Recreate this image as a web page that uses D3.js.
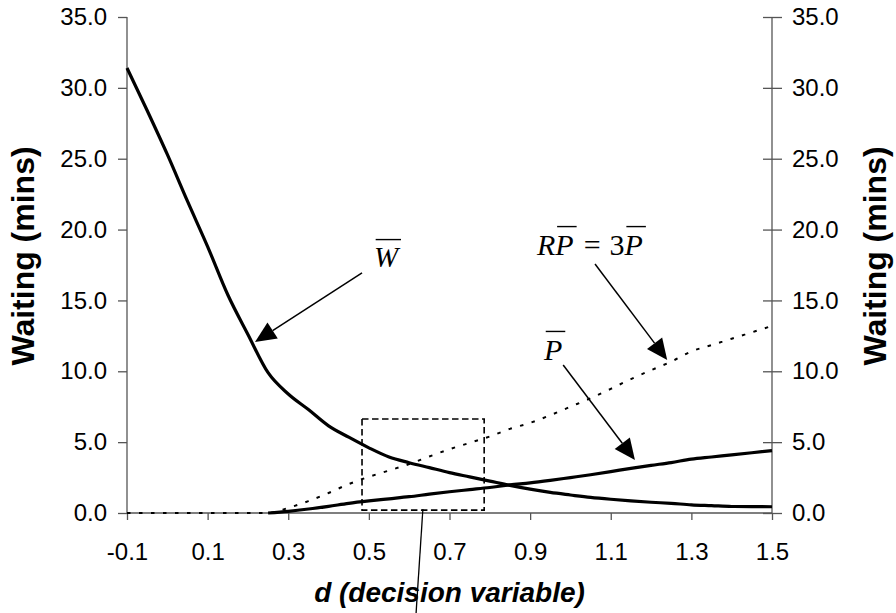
<!DOCTYPE html>
<html>
<head>
<meta charset="utf-8">
<script src="https://cdn.jsdelivr.net/npm/d3@7"></script>
<style>
  html, body { margin: 0; padding: 0; background: #fff; }
  svg { display: block; }
</style>
</head>
<body>
<svg id="chart" width="896" height="613"></svg>
<script>
// ---- data ----
const dValues = [-0.1, -0.05, 0.0, 0.05, 0.1, 0.15, 0.2, 0.25, 0.3, 0.35, 0.4, 0.45, 0.5, 0.55,
  0.6, 0.65, 0.7, 0.75, 0.8, 0.85, 0.9, 0.95, 1.0, 1.05, 1.1, 1.15, 1.2, 1.25, 1.3, 1.35, 1.4, 1.45, 1.5];
const wBar = [31.4, 28.4, 25.3, 22.0, 18.8, 15.4, 12.6, 9.9, 8.4, 7.3, 6.15, 5.35, 4.6, 3.95,
  3.55, 3.2, 2.85, 2.55, 2.25, 1.95, 1.68, 1.45, 1.27, 1.1, 0.97, 0.86, 0.76, 0.68, 0.58, 0.52, 0.46, 0.45, 0.44];
const pBar = [null, null, null, null, null, null, null, 0.0, 0.12, 0.28, 0.47, 0.68, 0.85, 1.0,
  1.15, 1.33, 1.5, 1.65, 1.8, 1.98, 2.12, 2.3, 2.5, 2.7, 2.92, 3.15, 3.36, 3.56, 3.8, 3.95, 4.1, 4.25, 4.4];
const rpBar = [0, 0, 0, 0, 0, 0, 0, 0.0, 0.36, 0.84, 1.41, 2.04, 2.55, 3.0,
  3.45, 3.99, 4.5, 4.95, 5.4, 5.94, 6.36, 6.9, 7.5, 8.1, 8.76, 9.45, 10.08, 10.68, 11.4, 11.85, 12.3, 12.75, 13.2];
const xTicks = [-0.1, 0.1, 0.3, 0.5, 0.7, 0.9, 1.1, 1.3, 1.5];
const yTicks = [0, 5, 10, 15, 20, 25, 30, 35];
const xTitle = "d (decision variable)";
const yTitle = "Waiting (mins)";
// annotations in data units [d, value]
const zoomBox = { d0: 0.483, d1: 0.786, v0: 0.2, v1: 6.63 };
const pointerLine = [[0.634, 0.28], [0.617, -7.1]];
const arrowW = [[0.483, 16.94], [0.2175, 12.07]];
const arrowRP = [[1.061, 17.57], [1.24, 10.8]];
const arrowP = [[0.982, 10.44], [1.16, 3.74]];
const labelW = { d: 0.5425, v: 17.35 };
const labelRP = { d: 0.917, v: 18.2 };
const labelP = { d: 0.957, v: 10.8 };

// ---- layout ----
const svg = d3.select("#chart");
const mLeft = 127, mRight = 772, mTop = 17, mBottom = 513;
const x = d3.scaleLinear().domain([-0.1, 1.5]).range([mLeft, mRight]);
const y = d3.scaleLinear().domain([0, 35]).range([mBottom, mTop]);
const sans = "'Liberation Sans', Arial, sans-serif";
const serif = "'Liberation Serif', 'Times New Roman', serif";
const axisColor = "#555";
const fmt = d3.formatLocale({ decimal: ".", thousands: ",", grouping: [3], currency: ["", ""], minus: "-" }).format(".1f");

// axes
const gx = svg.append("g").attr("transform", `translate(0,${mBottom})`)
  .call(d3.axisBottom(x).tickValues(xTicks).tickFormat(fmt).tickSize(7).tickPadding(23).tickSizeOuter(0));
const gl = svg.append("g").attr("transform", `translate(${mLeft},0)`)
  .call(d3.axisLeft(y).tickValues(yTicks).tickFormat(fmt).tickSize(9).tickPadding(11).tickSizeOuter(0));
const gr = svg.append("g").attr("transform", `translate(${mRight},0)`)
  .call(d3.axisRight(y).tickValues(yTicks).tickFormat(fmt).tickSize(10).tickPadding(10).tickSizeOuter(0));
gr.selectAll(".tick line").attr("x1", -9);
[gx, gl, gr].forEach(g => {
  g.selectAll("path.domain").attr("stroke", axisColor).attr("stroke-width", 1.3);
  g.selectAll(".tick line").attr("stroke", axisColor).attr("stroke-width", 1.3);
  g.selectAll(".tick text").attr("fill", "#000").style("font-family", sans).style("font-size", "24px");
});
gl.select("path.domain").attr("d", `M0,${y(35)}V${y(0)}`);
gr.select("path.domain").attr("d", `M0,${y(35)}V${y(0)}`);
gx.select("path.domain").attr("d", `M${mLeft},0H${mRight}`);

// titles
svg.append("text").attr("x", (mLeft + mRight) / 2).attr("y", 602).attr("text-anchor", "middle")
  .style("font-family", sans).style("font-size", "28px").style("font-weight", "bold").style("font-style", "italic")
  .text(xTitle);
svg.append("text").attr("transform", `translate(34,256) rotate(-90)`).attr("text-anchor", "middle")
  .style("font-family", sans).style("font-size", "32px").style("font-weight", "bold").text(yTitle);
svg.append("text").attr("transform", `translate(886,256) rotate(-90)`).attr("text-anchor", "middle")
  .style("font-family", sans).style("font-size", "32px").style("font-weight", "bold").text(yTitle);

// series
const rows = dValues.map((d, i) => ({ d, w: wBar[i], p: pBar[i], rp: rpBar[i] }));
const mk = key => d3.line().defined(r => r[key] !== null).x(r => x(r.d)).y(r => y(r[key])).curve(d3.curveMonotoneX);
svg.append("path").datum(rows).attr("d", mk("rp")).attr("fill", "none").attr("stroke", "#000")
  .attr("stroke-width", 2).attr("stroke-dasharray", "3.5,8.5");
svg.append("path").datum(rows).attr("d", mk("p")).attr("fill", "none").attr("stroke", "#000")
  .attr("stroke-width", 3.2).attr("stroke-linejoin", "round");
svg.append("path").datum(rows).attr("d", mk("w")).attr("fill", "none").attr("stroke", "#000")
  .attr("stroke-width", 3.2).attr("stroke-linejoin", "round");

// zoom box
svg.append("rect").attr("x", x(zoomBox.d0)).attr("y", y(zoomBox.v1))
  .attr("width", x(zoomBox.d1) - x(zoomBox.d0)).attr("height", y(zoomBox.v0) - y(zoomBox.v1))
  .attr("fill", "none").attr("stroke", "#000").attr("stroke-width", 1.6).attr("stroke-dasharray", "6.5,3.5");
svg.append("line").attr("x1", x(pointerLine[0][0])).attr("y1", y(pointerLine[0][1]))
  .attr("x2", x(pointerLine[1][0])).attr("y2", y(pointerLine[1][1])).attr("stroke", "#000").attr("stroke-width", 1.3);

// arrows
function arrow(a) {
  const x1 = x(a[0][0]), y1 = y(a[0][1]), x2 = x(a[1][0]), y2 = y(a[1][1]);
  const ang = Math.atan2(y2 - y1, x2 - x1);
  const L = 21, W = 9.5;
  const bx = x2 - L * Math.cos(ang), by = y2 - L * Math.sin(ang);
  svg.append("line").attr("x1", x1).attr("y1", y1).attr("x2", bx).attr("y2", by)
    .attr("stroke", "#000").attr("stroke-width", 1.5);
  const px = -Math.sin(ang), py = Math.cos(ang);
  svg.append("path").attr("d", `M${x2},${y2}L${bx + W * px},${by + W * py}L${bx - W * px},${by - W * py}Z`)
    .attr("fill", "#000");
}
arrow(arrowW); arrow(arrowRP); arrow(arrowP);

// math labels with overbars
function mathLabel(lab, parts, size, anchor) {
  const t = svg.append("text").attr("x", x(lab.d)).attr("y", y(lab.v))
    .style("font-family", serif).style("font-size", size + "px").attr("text-anchor", anchor);
  const spans = parts.map(p => t.append("tspan").style("font-style", p.italic ? "italic" : "normal")
    .attr("dx", p.dx || 0).text(p.s));
  parts.forEach((p, i) => {
    if (!p.bar) return;
    const node = spans[i].node();
    const n = node.getNumberOfChars();
    const s = node.getStartPositionOfChar(0);
    const e = node.getEndPositionOfChar(n - 1);
    const yb = y(lab.v) - size * 0.95;
    svg.append("line").attr("x1", s.x + size * 0.06).attr("x2", e.x + size * 0.1).attr("y1", yb).attr("y2", yb)
      .attr("stroke", "#000").attr("stroke-width", 1.4);
  });
}
mathLabel(labelW, [{ s: "W", italic: true, bar: true }], 29, "middle");
mathLabel(labelP, [{ s: "P", italic: true, bar: true }], 30, "middle");
mathLabel(labelRP, [
  { s: "R", italic: true }, { s: "P", italic: true, bar: true },
  { s: "=", dx: 10 }, { s: "3", dx: 9 }, { s: "P", italic: true, bar: true }], 30, "start");
</script>
</body>
</html>
